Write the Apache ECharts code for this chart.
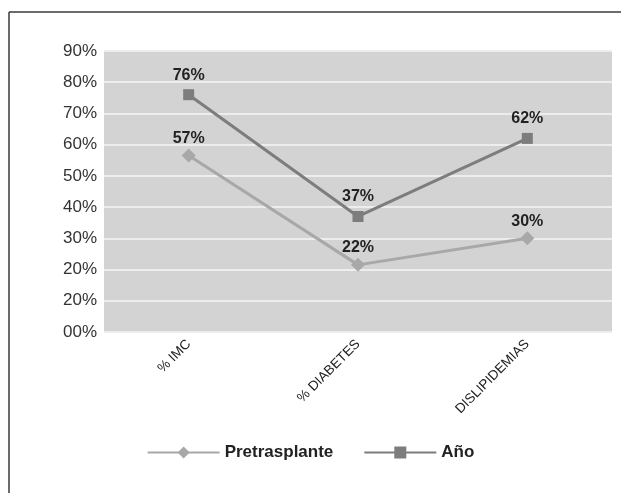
<!DOCTYPE html>
<html><head><meta charset="utf-8">
<script src="https://cdn.jsdelivr.net/npm/echarts@6/dist/echarts.min.js"></script>
<style>html,body{margin:0;padding:0;background:#fff}#c{width:621px;height:493px}</style>
</head><body><div id="c"></div>
<script>
const categories = ['% IMC', '% DIABETES', 'DISLIPIDEMIAS'];
const pretrasplante = [56.5, 21.5, 30];
const anio = [76, 37, 62];
const yTickLabels = ['00%', '20%', '20%', '30%', '40%', '50%', '60%', '70%', '80%', '90%'];

const chart = echarts.init(document.getElementById('c'), null, {renderer: 'canvas'});
chart.setOption({
  animation: false,
  backgroundColor: '#fff',
  graphic: [
    {type: 'line', shape: {x1: 9, y1: 12, x2: 621, y2: 12}, style: {stroke: '#3a3a3a', lineWidth: 1.5}},
    {type: 'line', shape: {x1: 9, y1: 12, x2: 9, y2: 493}, style: {stroke: '#3a3a3a', lineWidth: 1.5}}
  ],
  grid: {left: 104, top: 51, right: 9, bottom: 161, show: true, backgroundColor: '#d3d3d3', borderWidth: 0},
  legend: {
    bottom: 27, left: 'center', itemWidth: 72, itemHeight: 15, itemGap: 30,
    textStyle: {fontFamily: 'Liberation Sans, Arial', fontWeight: 'bold', fontSize: 17, color: '#222'},
    data: ['Pretrasplante', 'Año']
  },
  xAxis: {
    type: 'category', data: categories, boundaryGap: true,
    axisLine: {show: false}, axisTick: {show: false},
    axisLabel: {rotate: 45, margin: 10, fontFamily: 'Liberation Sans Narrow, Arial Narrow, Arial', fontSize: 13.5, color: '#222'}
  },
  yAxis: {
    type: 'value', min: 0, max: 90, interval: 10,
    axisLine: {show: false}, axisTick: {show: false},
    splitLine: {lineStyle: {color: '#ededed', width: 2}},
    axisLabel: {margin: 7, fontFamily: 'Liberation Sans, Arial', fontSize: 17, color: '#333',
      formatter: v => yTickLabels[Math.round(v / 10)]}
  },
  series: [
    {
      name: 'Pretrasplante', type: 'line', data: pretrasplante,
      symbol: 'diamond', symbolSize: 14,
      lineStyle: {color: '#a8a8a8', width: 3},
      itemStyle: {color: '#a8a8a8'},
      label: {show: true, position: 'top', distance: 2, formatter: p => Math.round(p.value) + '%',
        fontFamily: 'Liberation Sans, Arial', fontWeight: 'bold', fontSize: 16, color: '#222'}
    },
    {
      name: 'Año', type: 'line', data: anio,
      symbol: 'rect', symbolSize: 11,
      lineStyle: {color: '#7d7d7d', width: 3},
      itemStyle: {color: '#7d7d7d'},
      label: {show: true, position: 'top', distance: 6, formatter: p => Math.round(p.value) + '%',
        fontFamily: 'Liberation Sans, Arial', fontWeight: 'bold', fontSize: 16, color: '#222'}
    }
  ]
});
</script></body></html>
